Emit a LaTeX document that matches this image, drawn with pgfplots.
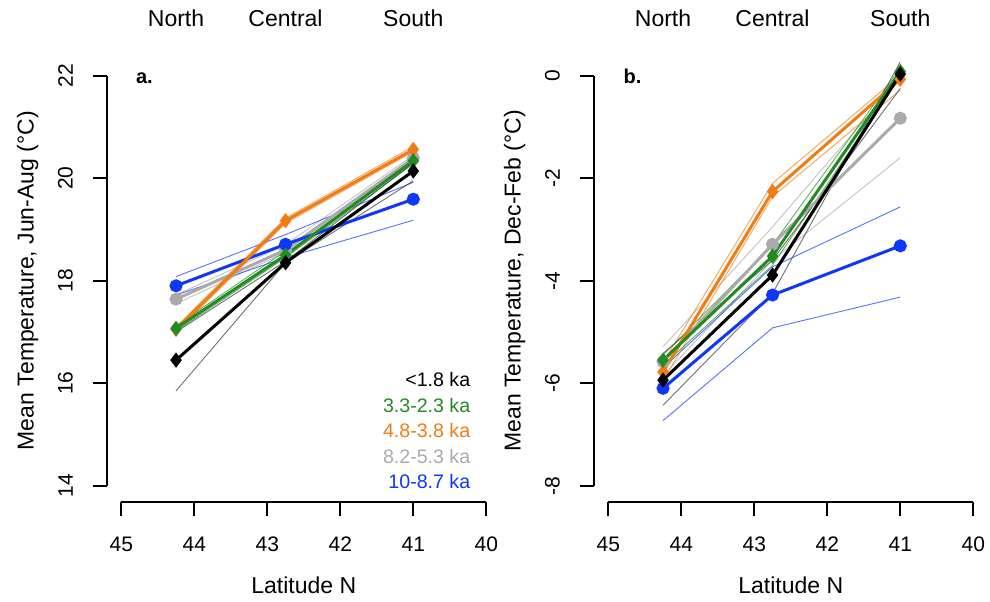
\documentclass[border=0pt]{standalone}
\usepackage{pgfplots}
\pgfplotsset{compat=1.18}
\usepackage{fontspec}
\setmainfont{Liberation Sans}
\definecolor{cOrange}{RGB}{240,125,20}
\definecolor{cGreen}{RGB}{34,139,34}
\definecolor{cBlue}{RGB}{15,55,250}
\definecolor{cGrey}{RGB}{170,170,170}
\begin{document}
\begin{tikzpicture}
\path[use as bounding box] (0,0) rectangle (495pt,300.5pt);
\pgfplotsset{
 myaxis/.style={
  scale only axis, width=197.1pt, height=221.4pt,
  xmin=39.8, xmax=45.2, x dir=reverse,
  xtick={40,41,42,43,44,45},
  axis line style={draw=none},
  xtick pos=left, ytick pos=left,
  tick align=outside, major tick length=7pt,
  tick style={black, line width=1pt},
  ticklabel style={font=\fontsize{10.5}{12}\selectfont},
  /pgf/number format/assume math mode=true,
  xticklabel shift=6.8pt,
  yticklabel style={rotate=90, anchor=south},
  yticklabel shift=6.35pt,
  clip=false,
 },
 thinl/.style={line width=0.45pt, opacity=0.7, mark=none},
 mainl/.style={line width=1.5pt},
}
% ---------------- panel a
\begin{axis}[myaxis, at={(53.35pt,49.45pt)}, anchor=south west,
  ymin=13.68, ymax=22.32, ytick={14,16,18,20,22}]
\draw[line width=1pt] (axis cs:45,13.68) -- (axis cs:40,13.68);
\draw[line width=1pt] (axis cs:45.2,14) -- (axis cs:45.2,22);
% thin bands
\addplot[thinl, cGrey] coordinates {(44.25,17.55) (42.75,18.55) (41,20.30)};
\addplot[thinl, cGrey] coordinates {(44.25,17.72) (42.75,18.70) (41,20.45)};
\addplot[thinl, cBlue] coordinates {(44.25,18.08) (42.75,18.90) (41,19.92)};
\addplot[thinl, cBlue] coordinates {(44.25,17.72) (42.75,18.45) (41,19.18)};
\addplot[thinl, cOrange] coordinates {(44.25,17.00) (42.75,19.12) (41,20.52)};
\addplot[thinl, cOrange] coordinates {(44.25,17.10) (42.75,19.22) (41,20.62)};
\addplot[thinl, cGreen] coordinates {(44.25,17.02) (42.75,18.45) (41,20.28)};
\addplot[thinl, cGreen] coordinates {(44.25,17.12) (42.75,18.58) (41,20.40)};
\addplot[thinl, black!80] coordinates {(44.25,15.85) (42.75,18.35) (41,19.95)};
\addplot[thinl, black!80] coordinates {(44.25,17.00) (42.75,18.38) (41,20.30)};
% main lines
\addplot[mainl, cGrey, mark=*, mark size=2.5pt] coordinates {(44.25,17.64) (42.75,18.60) (41,20.39)};
\addplot[mainl, cBlue, mark=*, mark size=2.5pt] coordinates {(44.25,17.90) (42.75,18.71) (41,19.59)};
\addplot[mainl, cOrange, mark=diamond*, mark size=2.6pt] coordinates {(44.25,17.05) (42.75,19.17) (41,20.56)};
\addplot[mainl, cGreen, mark=diamond*, mark size=2.6pt] coordinates {(44.25,17.07) (42.75,18.50) (41,20.34)};
\addplot[mainl, black, mark=diamond*, mark size=2.6pt] coordinates {(44.25,16.45) (42.75,18.35) (41,20.14)};
% texts
\node[anchor=base, font=\fontsize{11.5}{13}\selectfont] at (axis cs:44.25,22.956) {North};
\node[anchor=base, font=\fontsize{11.5}{13}\selectfont] at (axis cs:42.75,22.956) {Central};
\node[anchor=base, font=\fontsize{11.5}{13}\selectfont] at (axis cs:41,22.956) {South};
\node[anchor=base west, font=\fontsize{10}{12}\selectfont\bfseries, inner sep=0pt] at (axis cs:44.804,21.852) {a.};
\node[anchor=base, font=\fontsize{11.5}{13}\selectfont] at (axis cs:42.5,11.90) {Latitude N};
\node[anchor=base, rotate=90, font=\fontsize{11.5}{13}\selectfont] at (axis cs:46.2,18) {Mean Temperature, Jun-Aug (°C)};
\node[anchor=base east, inner sep=0pt, font=\fontsize{9.8}{12}\selectfont, text=black] at (axis cs:40.215,15.932) {<1.8 ka};
\node[anchor=base east, inner sep=0pt, font=\fontsize{9.8}{12}\selectfont, text=cGreen] at (axis cs:40.215,15.434) {3.3-2.3 ka};
\node[anchor=base east, inner sep=0pt, font=\fontsize{9.8}{12}\selectfont, text=cOrange] at (axis cs:40.215,14.937) {4.8-3.8 ka};
\node[anchor=base east, inner sep=0pt, font=\fontsize{9.8}{12}\selectfont, text=cGrey] at (axis cs:40.215,14.439) {8.2-5.3 ka};
\node[anchor=base east, inner sep=0pt, font=\fontsize{9.8}{12}\selectfont, text=cBlue] at (axis cs:40.215,13.941) {10-8.7 ka};
\end{axis}
% ---------------- panel b
\begin{axis}[myaxis, at={(296.85pt,49.45pt)}, anchor=south west,
  ymin=-8.32, ymax=0.32, ytick={-8,-6,-4,-2,0}]
\draw[line width=1pt] (axis cs:45,-8.32) -- (axis cs:40,-8.32);
\draw[line width=1pt] (axis cs:45.2,-8) -- (axis cs:45.2,0);
\addplot[thinl, cGrey] coordinates {(44.25,-5.29) (42.75,-2.95) (41,-0.05)};
\addplot[thinl, cGrey] coordinates {(44.25,-5.85) (42.75,-3.60) (41,-1.60)};
\addplot[thinl, cBlue] coordinates {(44.25,-5.70) (42.75,-3.73) (41,-2.56)};
\addplot[thinl, cBlue] coordinates {(44.25,-6.73) (42.75,-4.92) (41,-4.32)};
\addplot[thinl, cOrange] coordinates {(44.25,-5.60) (42.75,-2.10) (41,0.01)};
\addplot[thinl, cOrange] coordinates {(44.25,-5.95) (42.75,-2.36) (41,-0.28)};
\addplot[thinl, cGreen] coordinates {(44.25,-5.45) (42.75,-3.30) (41,0.15)};
\addplot[thinl, cGreen] coordinates {(44.25,-5.65) (42.75,-3.70) (41,0.00)};
\addplot[thinl, black!80] coordinates {(44.25,-6.43) (42.75,-4.25) (41,0.27)};
\addplot[thinl, black!80] coordinates {(44.25,-5.42) (42.75,-3.60) (41,-0.25)};
\addplot[mainl, cGrey, mark=*, mark size=2.5pt] coordinates {(44.25,-5.58) (42.75,-3.29) (41,-0.83)};
\addplot[mainl, cBlue, mark=*, mark size=2.5pt] coordinates {(44.25,-6.10) (42.75,-4.28) (41,-3.32)};
\addplot[mainl, cOrange, mark=diamond*, mark size=2.6pt] coordinates {(44.25,-5.78) (42.75,-2.26) (41,-0.07)};
\addplot[mainl, cGreen, mark=diamond*, mark size=2.6pt] coordinates {(44.25,-5.55) (42.75,-3.52) (41,0.08)};
\addplot[mainl, black, mark=diamond*, mark size=2.6pt] coordinates {(44.25,-5.94) (42.75,-3.89) (41,0.03)};
\node[anchor=base, font=\fontsize{11.5}{13}\selectfont] at (axis cs:44.25,0.956) {North};
\node[anchor=base, font=\fontsize{11.5}{13}\selectfont] at (axis cs:42.75,0.956) {Central};
\node[anchor=base, font=\fontsize{11.5}{13}\selectfont] at (axis cs:41,0.956) {South};
\node[anchor=base west, font=\fontsize{10}{12}\selectfont\bfseries, inner sep=0pt] at (axis cs:44.795,-0.148) {b.};
\node[anchor=base, font=\fontsize{11.5}{13}\selectfont] at (axis cs:42.5,-10.10) {Latitude N};
\node[anchor=base, rotate=90, font=\fontsize{11.5}{13}\selectfont] at (axis cs:46.2,-4) {Mean Temperature, Dec-Feb (°C)};
\end{axis}
\end{tikzpicture}
\end{document}
